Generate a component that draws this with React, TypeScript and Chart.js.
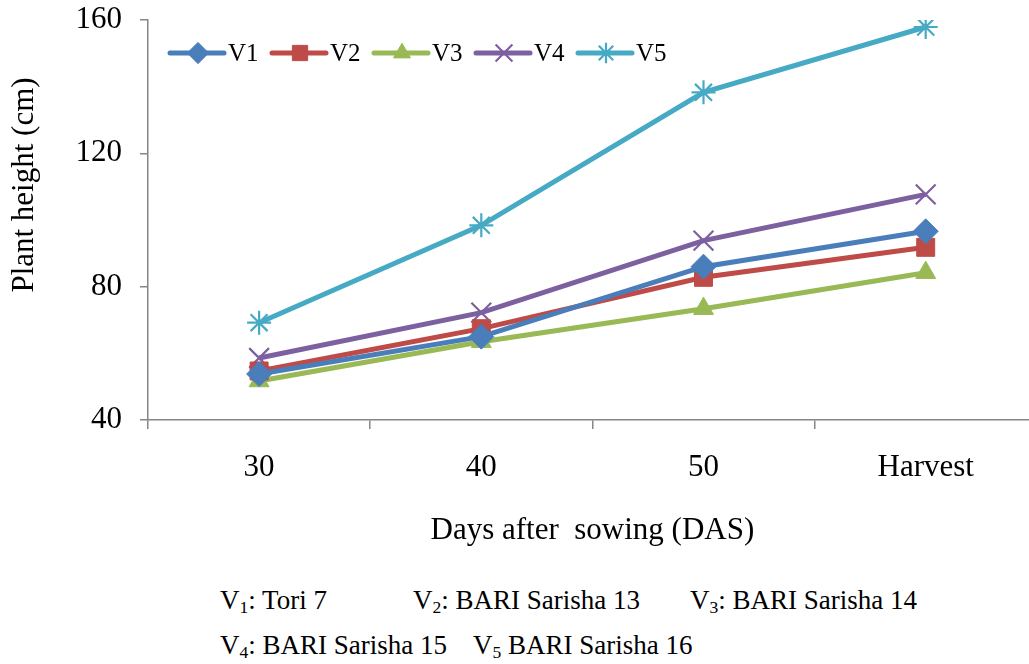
import React, { useEffect, useRef } from "react";
import { Chart, registerables } from "chart.js";
import { drawPoint } from "chart.js/helpers";

Chart.register(...registerables);

const categories = ["30", "40", "50", "Harvest"];
const seriesNames = ["V1", "V2", "V3", "V4", "V5"];
const v1 = [53.8, 65.0, 86.0, 96.6];
const v2 = [54.7, 67.4, 82.8, 91.8];
const v3 = [51.7, 63.5, 73.4, 84.2];
const v4 = [58.6, 72.2, 93.8, 107.7];
const v5 = [69.2, 98.4, 138.3, 157.9];
const yTicks = [40, 80, 120, 160];

const colors = ["#4A7EBB", "#BE4B48", "#98B954", "#7D60A0", "#46AAC5"];
const pointStyles = ["rectRot", "rect", "triangle", "crossRot", "star"];
const pointRadii = [12.5, 12.7, 11.5, 14, 12];
const pointBorders = [1, 1, 1, 2.2, 2.2];

const FONT = "'Liberation Serif', 'Times New Roman', serif";

const legendPlugin = {
  id: "inlineLegend",
  afterDraw(chart: any) {
    const ctx = chart.ctx;
    ctx.save();
    chart.data.datasets.forEach((ds: any, i: number) => {
      const x0 = 170 + i * 102;
      const y = 53;
      ctx.strokeStyle = ds.borderColor;
      ctx.lineWidth = 5;
      ctx.lineCap = "round";
      ctx.beginPath();
      ctx.moveTo(x0, y);
      ctx.lineTo(x0 + 54, y);
      ctx.stroke();
      ctx.lineCap = "butt";
      ctx.fillStyle = ds.pointBackgroundColor;
      ctx.strokeStyle = ds.pointBorderColor;
      ctx.lineWidth = ds.pointBorderWidth;
      drawPoint(ctx, { pointStyle: ds.pointStyle, radius: ds.pointRadius * 0.85, borderWidth: ds.pointBorderWidth, rotation: 0 }, x0 + 28, y);
      ctx.fillStyle = "#000";
      ctx.font = `25px ${FONT}`;
      ctx.textAlign = "left";
      ctx.textBaseline = "middle";
      ctx.fillText(ds.label, x0 + 58, y + 1);
    });
    ctx.restore();
  },
};

const yTitlePlugin = {
  id: "yTitle",
  afterDraw(chart: any) {
    const ctx = chart.ctx;
    ctx.save();
    ctx.translate(25, 185);
    ctx.rotate(-Math.PI / 2);
    ctx.fillStyle = "#000";
    ctx.font = `31px ${FONT}`;
    ctx.textAlign = "center";
    ctx.textBaseline = "middle";
    ctx.fillText("Plant height (cm)", 0, 0);
    ctx.restore();
  },
};

export default function App() {
  const ref = useRef<HTMLCanvasElement>(null);
  useEffect(() => {
    if (!ref.current) return;
    const all = [v1, v2, v3, v4, v5];
    const chart = new Chart(ref.current, {
      type: "line",
      data: {
        labels: categories,
        datasets: all.map((d, i) => ({
          label: seriesNames[i],
          data: d,
          borderColor: colors[i],
          backgroundColor: colors[i],
          borderWidth: 5,
          pointStyle: pointStyles[i] as any,
          pointRadius: pointRadii[i],
          pointBackgroundColor: colors[i],
          pointBorderColor: colors[i],
          pointBorderWidth: pointBorders[i],
          tension: 0,
        })),
      },
      options: {
        responsive: false,
        animation: false,
        layout: { padding: { top: 20, right: 3, left: 0, bottom: 0 } },
        plugins: { legend: { display: false }, tooltip: { enabled: false } },
        scales: {
          x: {
            type: "category",
            offset: true,
            grid: { offset: true, drawOnChartArea: false, drawTicks: true, tickLength: 9, color: "#868686", lineWidth: 1.5 },
            border: { color: "#868686", width: 1.5 },
            ticks: { font: { family: FONT, size: 31 }, color: "#000", padding: 20, maxRotation: 0 },
            title: { display: true, text: "Days after  sowing (DAS)", font: { family: FONT, size: 31 }, color: "#000", padding: { top: 0, bottom: 0 } },
            afterFit(s: any) { s.height = 129; s.paddingLeft = 0; s.paddingRight = 0; },
          },
          y: {
            min: 40,
            max: 160,
            afterBuildTicks(s: any) { s.ticks = yTicks.map((v) => ({ value: v })); },
            grid: { drawOnChartArea: false, drawTicks: true, tickLength: 8, color: "#868686", lineWidth: 1.5 },
            border: { color: "#868686", width: 1.5 },
            ticks: { font: { family: FONT, size: 31 }, color: "#000", padding: 18 },
            afterFit(s: any) { s.width = 148; s.paddingTop = 0; s.paddingBottom = 0; },
          },
        },
      },
      plugins: [legendPlugin, yTitlePlugin],
    });
    return () => chart.destroy();
  }, []);

  const noteStyle: React.CSSProperties = {
    position: "absolute",
    fontFamily: FONT,
    fontSize: 27,
    lineHeight: "27px",
    whiteSpace: "pre",
    color: "#000",
  };
  const subStyle: React.CSSProperties = { fontSize: "0.65em", verticalAlign: "-0.25em", lineHeight: 0 };

  return (
    <div style={{ position: "fixed", left: 0, top: 0, width: 1029, height: 664, overflow: "hidden", background: "#fff" }}>
      <canvas ref={ref} width={1053} height={549} style={{ position: "absolute", left: 0, top: 0 }} />
      <span style={{ ...noteStyle, left: 220, top: 587 }}>V<span style={subStyle}>1</span>: Tori 7</span>
      <span style={{ ...noteStyle, left: 413, top: 587 }}>V<span style={subStyle}>2</span>: BARI Sarisha 13</span>
      <span style={{ ...noteStyle, left: 690, top: 587 }}>V<span style={subStyle}>3</span>: BARI Sarisha 14</span>
      <span style={{ ...noteStyle, left: 220, top: 632 }}>V<span style={subStyle}>4</span>: BARI Sarisha 15</span>
      <span style={{ ...noteStyle, left: 473, top: 632 }}>V<span style={subStyle}>5</span> BARI Sarisha 16</span>
    </div>
  );
}
